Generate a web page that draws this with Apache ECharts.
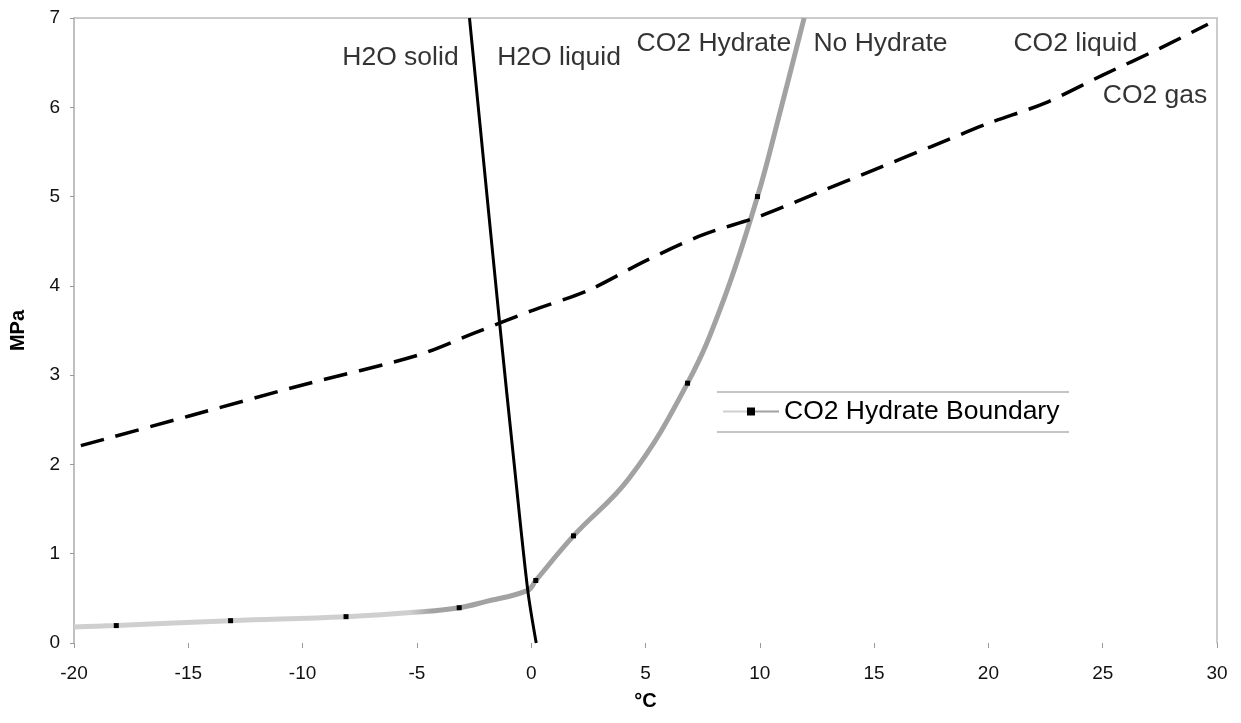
<!DOCTYPE html>
<html>
<head>
<meta charset="utf-8">
<title>CO2 hydrate phase diagram</title>
<script src="https://cdn.jsdelivr.net/npm/echarts@6/dist/echarts.min.js"></script>
<style>
  html, body { margin: 0; background: #fff; }
  #chart { width: 1241px; height: 723px; }
</style>
</head>
<body>
<div id="chart"></div>
<script>
// CO2 hydrate boundary, degC / MPa. mark=1 where the original has a data point
var hydrateT = [-20, -18.15, -13.15, -8.1, -4.8, -3.15, -2.04, -0.15, 0.2, 1.85, 4.3, 6.84, 8.4, 9.9, 10.9, 11.94];
var hydrateP = [0.18, 0.195, 0.25, 0.295, 0.35, 0.395, 0.46, 0.59, 0.70, 1.2, 1.85, 2.91, 3.83, 5.0, 5.96, 7.0];
var hydrateMark = [0, 1, 1, 1, 0, 1, 0, 0, 1, 1, 0, 1, 0, 1, 0, 0];

// H2O solid / liquid
var iceT = [-2.7, -2.26, -1.38, -0.73, -0.15, 0.22];
var iceP = [7.0, 5.86, 3.58, 1.97, 0.59, 0.0];

// CO2 liquid / gas
var co2T = [-19.7, -15, -10, -5, -2.5, 0, 2.5, 5, 7.5, 10, 12.5, 15, 17.5, 20, 22.5, 25, 27.5, 29.6];
var co2P = [2.21, 2.54, 2.89, 3.22, 3.47, 3.72, 3.95, 4.28, 4.57, 4.78, 5.04, 5.30, 5.56, 5.82, 6.05, 6.36, 6.66, 6.93];

// region labels
var regionNames = ['H2O solid', 'H2O liquid', 'CO2 Hydrate', 'No Hydrate', 'CO2 liquid', 'CO2 gas'];
var regionT = [-5.72, 1.22, 7.99, 15.28, 23.8, 27.29];
var regionP = [6.55, 6.55, 6.71, 6.71, 6.71, 6.13];

var xMin = -20, xMax = 30, xStep = 5;
var yMin = 0, yMax = 7, yStep = 1;

var font = 'Liberation Sans, Arial, sans-serif';
var myChart = echarts.init(document.getElementById('chart'));

var hydrateData = hydrateT.map(function (t, i) {
    return { value: [t, hydrateP[i]], symbol: hydrateMark[i] ? 'rect' : 'none' };
});
var iceData = iceT.map(function (t, i) { return [t, iceP[i]]; });
var co2Data = co2T.map(function (t, i) { return [t, co2P[i]]; });
var labelData = regionNames.map(function (n, i) { return { name: n, value: [regionT[i], regionP[i]] }; });

var option = {
    animation: false,
    textStyle: { fontFamily: font },
    grid: { left: 72, right: 24, top: 18, bottom: 80 },
    legend: {
        data: ['CO2 Hydrate Boundary'],
        left: 722,
        top: 398,
        padding: 0,
        itemWidth: 56,
        itemHeight: 10,
        itemGap: 7,
        textStyle: { fontSize: 26.5, color: '#000', fontFamily: font }
    },
    graphic: [
        { type: 'line', shape: { x1: 717, y1: 392, x2: 1069, y2: 392 }, style: { stroke: '#b0b0b0', lineWidth: 1.5 } },
        { type: 'line', shape: { x1: 717, y1: 432, x2: 1069, y2: 432 }, style: { stroke: '#b0b0b0', lineWidth: 1.5 } }
    ],
    xAxis: [{
        type: 'value', min: xMin, max: xMax, interval: xStep,
        name: '°C', nameLocation: 'middle', nameGap: 48,
        nameTextStyle: { fontSize: 20, fontWeight: 'bold', color: '#000', fontFamily: font },
        axisLine: { show: false, onZero: false },
        axisTick: { show: true, length: 5, lineStyle: { color: '#999' } },
        axisLabel: { fontSize: 19, color: '#111', margin: 21, fontFamily: font },
        splitLine: { show: false }
    }, {
        type: 'value', position: 'top', min: xMin, max: xMax,
        axisLine: { show: true, onZero: false, lineStyle: { color: '#bbb', width: 1.5 } },
        axisTick: { show: false }, axisLabel: { show: false }, splitLine: { show: false }
    }],
    yAxis: [{
        type: 'value', min: yMin, max: yMax, interval: yStep,
        name: 'MPa', nameLocation: 'middle', nameGap: 46, nameRotate: 90,
        nameTextStyle: { fontSize: 20, fontWeight: 'bold', color: '#000', fontFamily: font },
        axisLine: { show: true, onZero: false, lineStyle: { color: '#aaa', width: 1.5 } },
        axisTick: { show: true, length: 4, lineStyle: { color: '#999' } },
        axisLabel: { fontSize: 19, color: '#111', margin: 14, fontFamily: font },
        splitLine: { show: false }
    }, {
        type: 'value', position: 'right', min: yMin, max: yMax,
        axisLine: { show: true, onZero: false, lineStyle: { color: '#bbb', width: 1.5 } },
        axisTick: { show: false }, axisLabel: { show: false }, splitLine: { show: false }
    }],
    series: [{
        name: 'CO2 Hydrate Boundary',
        type: 'line',
        data: hydrateData,
        smooth: 0.4,
        symbol: 'rect',
        symbolSize: 5,
        itemStyle: { color: '#000' },
        lineStyle: {
            width: 5,
            color: {
                type: 'linear', x: 0, y: 0, x2: 1, y2: 0,
                colorStops: [
                    { offset: 0, color: '#cfcfcf' },
                    { offset: 0.46, color: '#cfcfcf' },
                    { offset: 0.49, color: '#a2a2a2' },
                    { offset: 1, color: '#a2a2a2' }
                ]
            }
        },
        z: 2
    }, {
        name: 'H2O',
        type: 'line',
        data: iceData,
        smooth: 0.3,
        showSymbol: false,
        lineStyle: { color: '#000', width: 3 },
        z: 3
    }, {
        name: 'CO2',
        type: 'line',
        data: co2Data,
        smooth: 0.3,
        showSymbol: false,
        lineStyle: { color: '#000', width: 3.5, type: [24, 12] },
        z: 3
    }, {
        name: 'labels',
        type: 'scatter',
        data: labelData,
        symbolSize: 1,
        itemStyle: { color: 'rgba(0,0,0,0)' },
        silent: true,
        label: {
            show: true,
            position: 'inside',
            formatter: function (p) { return p.name; },
            fontSize: 26.5,
            color: '#000',
            fontFamily: font
        },
        z: 4
    }]
};

myChart.setOption(option);
</script>
</body>
</html>
